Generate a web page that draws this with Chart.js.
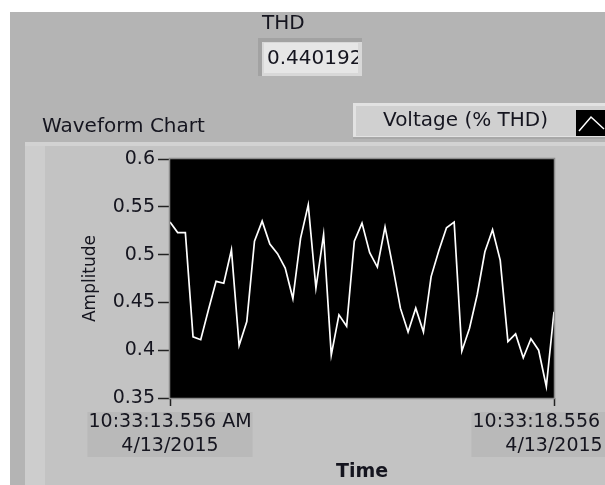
<!DOCTYPE html>
<html>
<head>
<meta charset="utf-8">
<title>Waveform Chart</title>
<script src="https://cdn.jsdelivr.net/npm/chart.js@4"></script>
<style>
  html, body { margin: 0; padding: 0; background: #ffffff; }
  #wrap { width: 605px; height: 485px; }
</style>
</head>
<body>
<div id="wrap"><canvas id="waveformChart" width="605" height="485"></canvas></div>
<script>
// Data
const seriesLabel = "Voltage (% THD)";
const sampleInterval = 0.1; // seconds between samples
const thdValues = [
  0.534, 0.523, 0.523, 0.414, 0.411, 0.442, 0.472, 0.470, 0.505, 0.405,
  0.430, 0.514, 0.535, 0.511, 0.501, 0.486, 0.454, 0.517, 0.552, 0.465,
  0.521, 0.395, 0.437, 0.425, 0.514, 0.533, 0.502, 0.487, 0.529, 0.488,
  0.444, 0.419, 0.444, 0.419, 0.477, 0.504, 0.528, 0.534, 0.399, 0.423,
  0.458, 0.503, 0.526, 0.494, 0.409, 0.417, 0.392, 0.412, 0.400, 0.362,
  0.440192,
];
const tickTimes = ["10:33:13.556 AM", "10:33:18.556 AM"];
const tickDates = ["4/13/2015", "4/13/2015"];
const yMin = 0.35;
const yMax = 0.6;
const yStep = 0.05;
const xSpan = 5;

const FONT = "'DejaVu Sans', sans-serif";
const TEXT = "#15151f";
const TICK_FONT = "19px " + FONT;

// LabVIEW-ish front panel drawn behind the chart
const panelPlugin = {
  id: "panel",
  beforeDraw(chart) {
    const ctx = chart.ctx;
    const area = chart.chartArea;
    ctx.save();
    ctx.fillStyle = "#ffffff";
    ctx.fillRect(0, 0, 605, 485);
    ctx.fillStyle = "#b4b4b4";
    ctx.fillRect(10, 12, 595, 473);

    // chart frame
    ctx.fillStyle = "#c3c3c3";
    ctx.fillRect(25, 142, 580, 343);
    ctx.fillStyle = "#d2d2d2";
    ctx.fillRect(25, 142, 580, 4);
    ctx.fillStyle = "#cdcdcd";
    ctx.fillRect(25, 146, 20, 339);

    // plot area
    ctx.fillStyle = "#000000";
    ctx.fillRect(area.left, area.top, area.right - area.left, area.bottom - area.top);

    // shaded boxes behind the time labels
    const xs = chart.scales.x;
    ctx.font = TICK_FONT;
    xs.ticks.forEach((t) => {
      const k = Math.round(t.value / xSpan);
      const w = Math.max(ctx.measureText(tickTimes[k]).width, ctx.measureText(tickDates[k]).width);
      const px = xs.getPixelForValue(t.value);
      ctx.fillStyle = "#b9b9b9";
      ctx.fillRect(px - w / 2 - 1, 412, w + 2, 45);
    });

    // THD indicator
    ctx.fillStyle = TEXT;
    ctx.font = "20px " + FONT;
    ctx.textBaseline = "middle";
    ctx.fillText("THD", 262, 24);
    ctx.fillStyle = "#a2a2a2";
    ctx.fillRect(258, 38, 104, 38);
    ctx.fillStyle = "#d8d8d8";
    ctx.fillRect(262, 42, 100, 34);
    ctx.fillStyle = "#e6e6e6";
    ctx.fillRect(264, 43, 94, 30);
    ctx.save();
    ctx.beginPath();
    ctx.rect(264, 43, 94, 30);
    ctx.clip();
    ctx.fillStyle = TEXT;
    const last = thdValues[thdValues.length - 1];
    ctx.fillText(last.toFixed(6), 267, 59);
    ctx.restore();

    // chart label
    ctx.fillStyle = TEXT;
    ctx.fillText("Waveform Chart", 42, 127);

    // plot legend
    ctx.fillStyle = "#a8a8a8";
    ctx.fillRect(353, 103, 252, 36);
    ctx.fillStyle = "#e2e2e2";
    ctx.fillRect(353, 103, 252, 34);
    ctx.fillStyle = "#d0d0d0";
    ctx.fillRect(356, 106, 249, 30);
    ctx.fillStyle = TEXT;
    ctx.fillText(chart.data.datasets[0].label, 383, 121);
    ctx.fillStyle = "#000000";
    ctx.fillRect(576, 110, 29, 26);
    ctx.strokeStyle = "#ffffff";
    ctx.lineWidth = 1.5;
    ctx.beginPath();
    ctx.moveTo(579, 131);
    ctx.lineTo(591, 117);
    ctx.lineTo(604, 129);
    ctx.stroke();
    ctx.restore();
  },
  afterDatasetsDraw(chart) {
    const ctx = chart.ctx;
    const area = chart.chartArea;
    ctx.save();
    ctx.strokeStyle = "#8c8c8c";
    ctx.lineWidth = 1.5;
    ctx.strokeRect(area.left - 0.5, area.top - 0.5, area.right - area.left + 1, area.bottom - area.top + 1);
    ctx.restore();
  },
};

const points = thdValues.map((v, i) => ({ x: i * sampleInterval, y: v }));

const ctx = document.getElementById("waveformChart").getContext("2d");
new Chart(ctx, {
  type: "line",
  data: {
    datasets: [
      {
        label: seriesLabel,
        data: points,
        borderColor: "#ffffff",
        borderWidth: 1.7,
        pointRadius: 0,
        tension: 0,
        fill: false,
      },
    ],
  },
  options: {
    responsive: false,
    animation: false,
    devicePixelRatio: 1,
    layout: {
      autoPadding: false,
      padding: { left: 70, top: 159, right: 51, bottom: 0 },
    },
    plugins: {
      legend: { display: false },
      tooltip: { enabled: false },
    },
    scales: {
      x: {
        type: "linear",
        min: 0,
        max: xSpan,
        afterFit: (scale) => {
          scale.height = 87;
          scale.paddingLeft = 0;
          scale.paddingRight = 0;
        },
        border: { display: false },
        grid: {
          drawOnChartArea: false,
          drawTicks: true,
          tickLength: 8,
          tickWidth: 1.5,
          tickColor: "#222222",
        },
        ticks: {
          stepSize: xSpan,
          autoSkip: false,
          maxRotation: 0,
          padding: 4,
          color: TEXT,
          font: { family: FONT, size: 19, lineHeight: 1.25 },
          callback: (value) => {
            const k = Math.round(value / xSpan);
            return [tickTimes[k], tickDates[k]];
          },
        },
        title: {
          display: true,
          text: "Time",
          color: TEXT,
          font: { family: FONT, size: 19, weight: "bold" },
          padding: { top: 0, bottom: 2 },
        },
      },
      y: {
        min: yMin,
        max: yMax,
        afterFit: (scale) => {
          scale.width = 100;
          scale.paddingTop = 0;
          scale.paddingBottom = 0;
        },
        border: { display: false },
        grid: {
          drawOnChartArea: false,
          drawTicks: true,
          tickLength: 12,
          tickWidth: 1.5,
          tickColor: "#222222",
        },
        ticks: {
          stepSize: yStep,
          padding: 3,
          color: TEXT,
          font: { family: FONT, size: 19 },
          callback: (value) => String(Number(value.toFixed(2))),
        },
        title: {
          display: true,
          text: "Amplitude",
          color: TEXT,
          font: { family: FONT, size: 17 },
          padding: { top: 10, bottom: 0 },
        },
      },
    },
  },
  plugins: [panelPlugin],
});
</script>
</body>
</html>
